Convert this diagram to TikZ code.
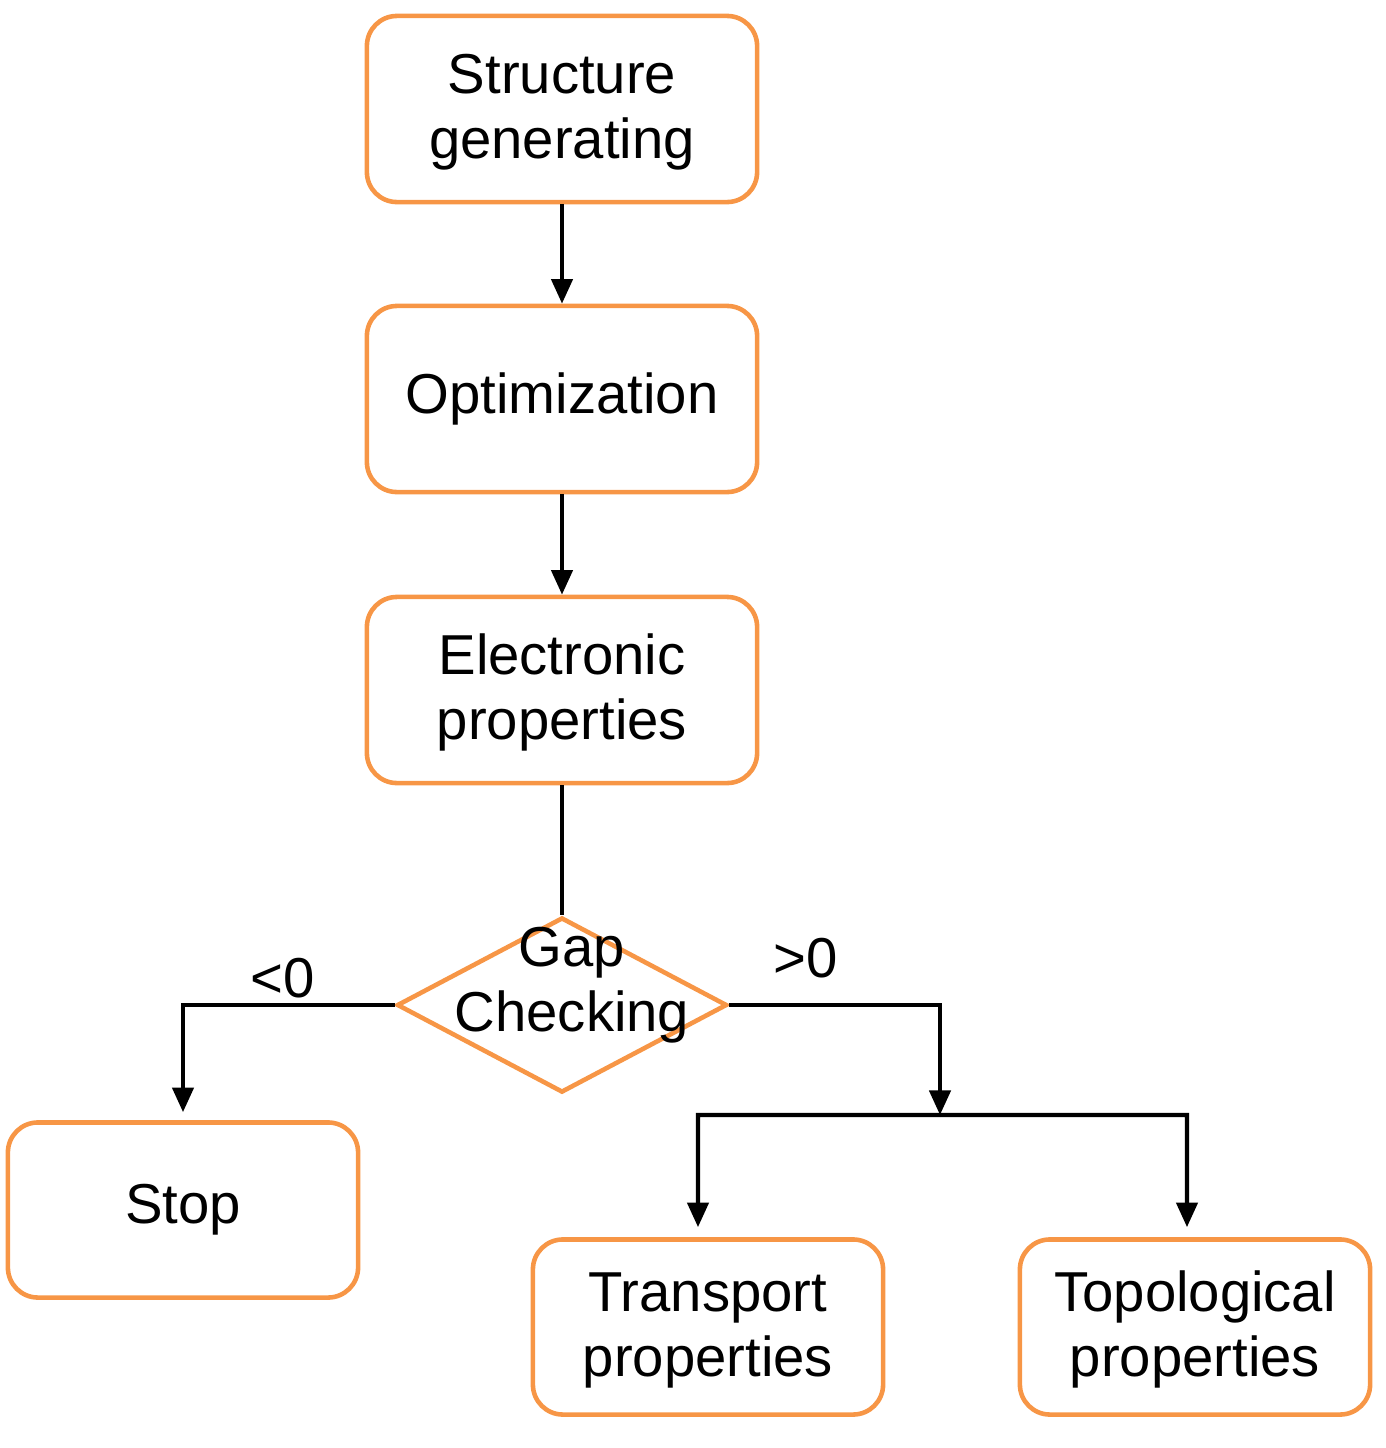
\documentclass[tikz,border=0pt]{standalone}
\usepackage{fontspec}
\setmainfont{Liberation Sans}
\usetikzlibrary{shapes.geometric,arrows.meta}
\definecolor{org}{RGB}{247,150,70}
\begin{document}
\begin{tikzpicture}[x=0.01cm,y=-0.01cm,
  box/.style={draw=org,line width=1.3pt,rounded corners=0.3cm,minimum width=3.9cm,minimum height=1.86cm,align=center,inner sep=0pt,font=\fontsize{16}{18.5}\selectfont},
  sbox/.style={box,minimum width=3.5cm,minimum height=1.75cm},
  dia/.style={draw=org,line width=1.3pt,diamond,minimum width=3.3cm,minimum height=1.75cm,inner sep=0pt},
  con/.style={line width=1.2pt,-{Triangle[length=7pt,width=6pt]}},
  lab/.style={font=\fontsize{16}{18.5}\selectfont}]
\useasboundingbox (0,0) rectangle (1386,1448);
\node[box] (s) at (562,109) {\strut Structure\\generating};
\node[box] (o) at (562,399) {Optimization};
\node[box] (e) at (562,690) {\strut Electronic\\properties};
\node[dia] (g) at (562,1005) {};
\node[lab,align=center] (gt) at (572,985) {Gap\\Checking};
\node[sbox] (stop) at (183,1210) {Stop};
\node[sbox] (t) at (708,1327) {\strut Transport\\properties};
\node[sbox] (tp) at (1195,1327) {\strut Topological\\properties};
\coordinate (sp) at (940,1115);
\draw[con] (s) -- (o);
\draw[con] (o) -- (e);
\draw[line width=1.2pt] (e) -- (g.north);
\draw[con] (g.west) -| ([yshift=0.08cm]stop.north);
\draw[con] (g.east) -| (sp);
\draw[con] (sp) -- (698,1115) -- ([xshift=-0.1cm,yshift=0.1cm]t.north);
\draw[con] (sp) -- (1187,1115) -- ([xshift=-0.08cm,yshift=0.1cm]tp.north);
\node[lab] (lt) at (283,978) {<0};
\node[lab] (gt0) at (806,958) {>0};
\end{tikzpicture}
\end{document}
